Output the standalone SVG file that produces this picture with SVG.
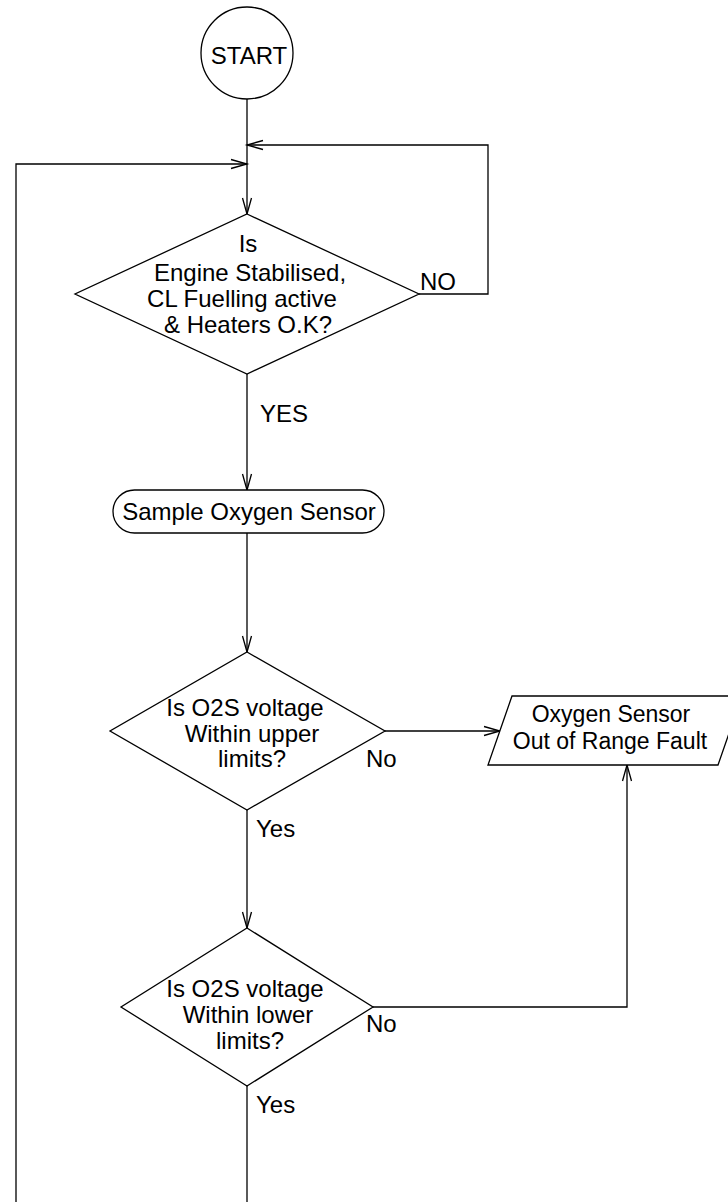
<svg xmlns="http://www.w3.org/2000/svg" width="728" height="1202" viewBox="0 0 728 1202">
  <style>
    .shape { fill: #ffffff; stroke: #000000; stroke-width: 1.3; }
    .wire { fill: none; stroke: #000000; stroke-width: 1.3; }
    text { font-family: "Liberation Sans", Arial, sans-serif; font-size: 24px; fill: #000000; }
    .mid { text-anchor: middle; }
    .tight { font-size: 23px; }
  </style>
  <defs>
    <marker id="arrow" markerUnits="userSpaceOnUse" markerWidth="20" markerHeight="12" viewBox="-17 -6 18 12" refX="0" refY="0" orient="auto" overflow="visible">
      <path d="M-16,-4.5 L0,0 L-16,4.5" fill="none" stroke="#000000" stroke-width="1.3"/>
    </marker>
  </defs>

  <rect width="728" height="1202" fill="#ffffff"/>

  <!-- connectors -->
  <g id="connectors">
    <path class="wire" d="M247,99 L247,214" marker-end="url(#arrow)"/>
    <path class="wire" d="M419,294 L488,294 L488,145 L247,145" marker-end="url(#arrow)"/>
    <path class="wire" d="M16,1202 L16,164 L247,164" marker-end="url(#arrow)"/>
    <path class="wire" d="M247,374 L247,490" marker-end="url(#arrow)"/>
    <path class="wire" d="M247,533 L247,652" marker-end="url(#arrow)"/>
    <path class="wire" d="M385,731 L500,731" marker-end="url(#arrow)"/>
    <path class="wire" d="M247,810 L247,928" marker-end="url(#arrow)"/>
    <path class="wire" d="M373,1007 L627,1007 L627,765" marker-end="url(#arrow)"/>
    <path class="wire" d="M247,1086 L247,1202"/>
  </g>

  <!-- connector labels -->
  <g id="labels">
    <text x="420" y="290">NO</text>
    <text x="260" y="422">YES</text>
    <text x="366" y="767">No</text>
    <text x="256" y="837">Yes</text>
    <text x="366" y="1032">No</text>
    <text x="256" y="1113">Yes</text>
  </g>

  <g id="start">
    <circle class="shape" cx="247" cy="53" r="46"/>
    <text class="mid" x="249" y="64">START</text>
  </g>

  <g id="check-conditions">
    <polygon class="shape" points="247,214 419,294 247,374 75,294"/>
    <text class="mid" x="248" y="252">Is</text>
    <text class="mid" x="250" y="281">Engine Stabilised,</text>
    <text class="mid" x="242" y="307">CL Fuelling active</text>
    <text class="mid" x="248" y="333">&amp; Heaters O.K?</text>
  </g>

  <g id="sample-sensor">
    <rect class="shape" x="113" y="490" width="271" height="43" rx="21.5" ry="21.5"/>
    <text class="mid" x="249" y="520">Sample Oxygen Sensor</text>
  </g>

  <g id="check-upper">
    <polygon class="shape" points="247,652 385,731 247,810 110,731"/>
    <text class="mid" x="245" y="716">Is O2S voltage</text>
    <text class="mid" x="252" y="742">Within upper</text>
    <text class="mid" x="252" y="767">limits?</text>
  </g>

  <g id="range-fault">
    <polygon class="shape" points="512,696 742,696 718,765 488,765"/>
    <text class="mid tight" x="611" y="722">Oxygen Sensor</text>
    <text class="mid tight" x="610" y="749">Out of Range Fault</text>
  </g>

  <g id="check-lower">
    <polygon class="shape" points="247,928 373,1007 247,1086 121,1007"/>
    <text class="mid" x="245" y="997">Is O2S voltage</text>
    <text class="mid" x="248" y="1023">Within lower</text>
    <text class="mid" x="250" y="1049">limits?</text>
  </g>
</svg>
